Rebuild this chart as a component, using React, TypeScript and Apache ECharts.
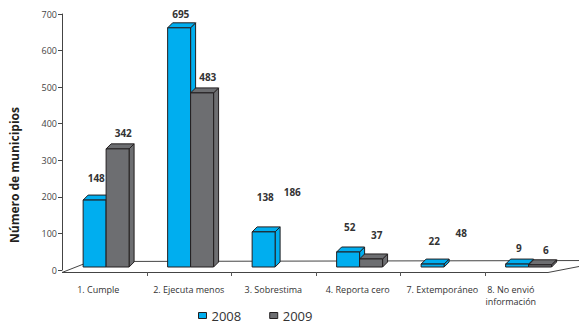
import React, { useEffect, useRef } from "react";
import * as echarts from "echarts";

const categories = [
  "1. Cumple",
  "2. Ejecuta menos",
  "3. Sobrestima",
  "4. Reporta cero",
  "7. Extemporáneo",
  "8. No envió\ninformación",
];
const years = ["2008", "2009"];
// drawn bar heights (as they appear in the picture)
const bars2008 = [183, 654, 96, 41, 8, 8];
const bars2009 = [323, 476, 0, 22, 0, 6];
// printed data labels
const labels2008 = [148, 695, 138, 52, 22, 9];
const labels2009 = [342, 483, 186, 37, 48, 6];
// height (in axis units) at which each printed label sits
const labelLevel2008 = [252, 700, 200, 118, 79, 60];
const labelLevel2009 = [375, 528, 213, 96, 101, 55];
const yTicks = [0, 100, 200, 300, 400, 500, 600, 700];

const BLUE = "#00AEEF";
const GRAY = "#6D6E71";
const EDGE = "#231F20";
const FONT = "'Open Sans', 'Noto Sans', sans-serif";

function makeRender(seriesIdx: number) {
  return (params: any, api: any) => {
    const cat = api.value(0);
    const v = api.value(1);
    const lbl = api.value(2);
    const lvl = api.value(3);
    const base = api.coord([cat, 0]);
    const topPt = api.coord([cat, v]);
    const band = api.size([1, 0])[0];
    const cx = base[0];
    const w = band * 0.272;
    const x0 = seriesIdx === 0 ? cx - band * 0.25 : cx + band * 0.022;
    const x1 = x0 + w;
    const lift = 3;
    const yb = base[1] - lift;
    const yt = topPt[1] - lift;
    const d = 5;
    const color = seriesIdx === 0 ? BLUE : GRAY;
    const children: any[] = [];
    if (v > 0) {
      const st = { fill: color, stroke: EDGE, lineWidth: 1 };
      children.push({
        type: "polygon",
        shape: { points: [[x1, yt], [x1 + d, yt - d], [x1 + d, yb - d], [x1, yb]] },
        style: st,
      });
      children.push({
        type: "polygon",
        shape: { points: [[x0, yt], [x0 + d, yt - d], [x1 + d, yt - d], [x1, yt]] },
        style: st,
      });
      children.push({
        type: "rect",
        shape: { x: x0, y: yt, width: w, height: yb - yt },
        style: st,
      });
    }
    const ly = api.coord([cat, lvl])[1];
    children.push({
      type: "text",
      x: cx + (seriesIdx === 0 ? -8 : 19),
      y: ly,
      style: {
        text: String(lbl),
        fill: "#333",
        font: `bold 10px ${FONT}`,
        align: "center",
        verticalAlign: "middle",
      },
    });
    if (seriesIdx === 0 && params.dataIndex > 0) {
      const bx = Math.round(cx - band / 2) + 0.5;
      children.push({
        type: "line",
        shape: { x1: bx, y1: 272, x2: bx, y2: 276 },
        style: { stroke: "#555", lineWidth: 1 },
      });
    }
    return { type: "group", children };
  };
}

export default function App() {
  const ref = useRef<HTMLDivElement>(null);
  useEffect(() => {
    if (!ref.current) return;
    const chart = echarts.init(ref.current, null, { renderer: "svg" });
    const data2008 = categories.map((_, i) => [i, bars2008[i], labels2008[i], labelLevel2008[i]]);
    const data2009 = categories.map((_, i) => [i, bars2009[i], labels2009[i], labelLevel2009[i]]);
    chart.setOption({
      animation: false,
      backgroundColor: "#fff",
      textStyle: { fontFamily: FONT },
      grid: { left: 62, right: 10, top: 14, bottom: 55, containLabel: false },
      graphic: [
        {
          type: "polygon",
          z: 0,
          shape: { points: [[62, 272.5], [90, 261.5], [610, 260.5], [548, 272.5]] },
          style: { fill: "#fff", stroke: "#444", lineWidth: 1 },
        },
      ],
      legend: {
        data: years.map((y, i) => ({
          name: y,
          icon: "rect",
          itemStyle: { color: i === 0 ? BLUE : GRAY, borderColor: EDGE, borderWidth: 1 },
        })),
        left: 196,
        top: 306,
        padding: 2,
        itemWidth: 8,
        itemHeight: 6,
        itemGap: 28,
        textStyle: { fontSize: 13, color: "#333", fontFamily: FONT, lineHeight: 15 },
      },
      xAxis: {
        type: "category",
        data: categories.map((c, i) =>
          i === categories.length - 1
            ? { value: c, textStyle: { padding: [0, 32, 0, 0], align: "center" } }
            : i === 0
            ? { value: c, textStyle: { padding: [0, 12, 0, 0] } }
            : c
        ),
        axisLine: { show: false },
        axisTick: { show: false },
        axisLabel: { color: "#333", fontSize: 9, margin: 13, fontFamily: FONT, interval: 0, lineHeight: 12 },
      },
      yAxis: {
        type: "value",
        min: yTicks[0],
        max: yTicks[yTicks.length - 1],
        interval: yTicks[1] - yTicks[0],
        name: "Número de municipios",
        nameLocation: "middle",
        nameRotate: 90,
        nameGap: 42,
        nameTextStyle: {
          fontSize: 12,
          fontWeight: "bold",
          color: "#231F20",
          fontFamily: FONT,
          padding: [0, 66, 0, 0],
        },
        axisLine: { show: true, lineStyle: { color: "#444", width: 1 } },
        axisTick: { show: true, length: 4, lineStyle: { color: "#444" } },
        axisLabel: { color: "#444", fontSize: 9, margin: 5, fontFamily: FONT },
        splitLine: { show: false },
      },
      series: [
        {
          type: "custom",
          name: years[0],
          itemStyle: { color: BLUE },
          renderItem: makeRender(0),
          data: data2008,
          encode: { x: 0, y: 1 },
          z: 3,
        },
        {
          type: "custom",
          name: years[1],
          itemStyle: { color: GRAY },
          renderItem: makeRender(1),
          data: data2009,
          encode: { x: 0, y: 1 },
          z: 4,
        },
      ],
    });
    return () => chart.dispose();
  }, []);
  return <div ref={ref} style={{ width: 579, height: 325, position: "absolute", left: 0, top: 0 }} />;
}
